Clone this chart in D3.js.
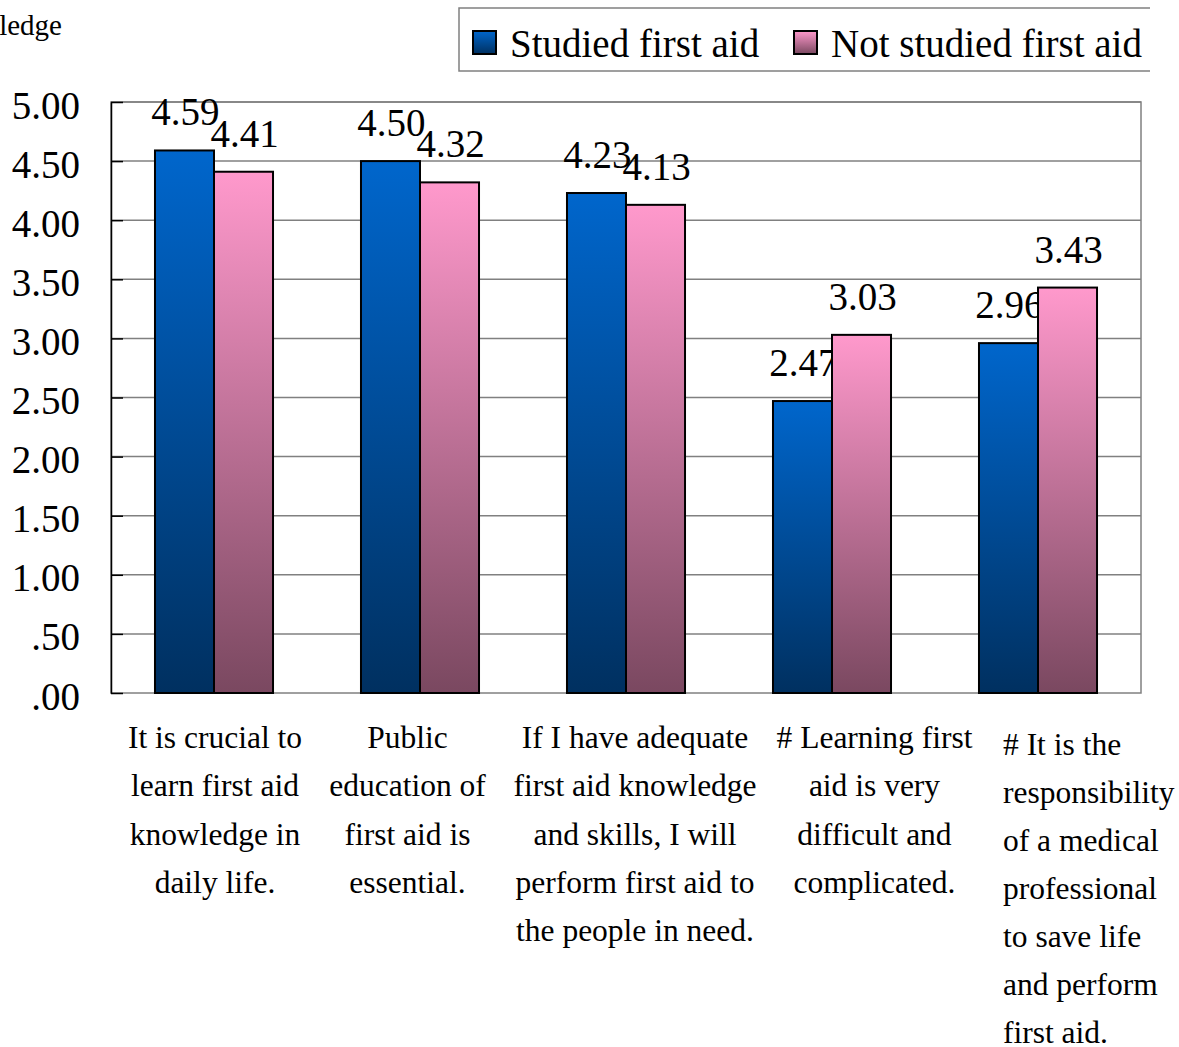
<!DOCTYPE html>
<html><head><meta charset="utf-8">
<script src="https://cdn.jsdelivr.net/npm/d3@7"></script>
<style>body{margin:0;background:#fff}svg{display:block}text{font-family:"Liberation Serif","Times New Roman",serif}</style>
</head><body>
<svg id="c" width="1179" height="1047"></svg>
<script>
const categories = [
  ["It is crucial to","learn first aid","knowledge in","daily life."],
  ["Public","education of","first aid is","essential."],
  ["If I have adequate","first aid knowledge","and skills, I will","perform first aid to","the people in need."],
  ["# Learning first","aid is very","difficult and","complicated."],
  ["# It is the","responsibility","of a medical","professional","to save life","and perform","first aid."]
];
const seriesNames = ["Studied first aid","Not studied first aid"];
const studied = [4.59, 4.50, 4.23, 2.47, 2.96];
const notStudied = [4.41, 4.32, 4.13, 3.03, 3.43];
const yTicks = [0,0.5,1,1.5,2,2.5,3,3.5,4,4.5,5];
const yTickLabels = [".00",".50","1.00","1.50","2.00","2.50","3.00","3.50","4.00","4.50","5.00"];
const titleFragment = "knowledge";

const svg = d3.select("#c");
const L = 111, R = 1141, T = 102, B = 693;
const idx = categories.map((d,i)=>i);
const x = d3.scaleBand().domain(idx).range([L,R]).paddingInner(0.427).paddingOuter(0.2135);
const xs = d3.scaleBand().domain([0,1]).range([0,x.bandwidth()]);
const y = d3.scaleLinear().domain([0,5]).range([B,T]);

const defs = svg.append("defs");
const grads = [["#0066CC","#003060"],["#FF99CC","#7A4860"]];
grads.forEach((g,i)=>{
  const lg = defs.append("linearGradient").attr("id","g"+i).attr("x1",0).attr("y1",0).attr("x2",0).attr("y2",1);
  lg.append("stop").attr("offset","0%").attr("stop-color",g[0]);
  lg.append("stop").attr("offset","100%").attr("stop-color",g[1]);
});

// title fragment (cut off at the left edge, as in the reference)
svg.append("text").attr("x",62).attr("y",35).attr("text-anchor","end").attr("font-size",29).text(titleFragment);

// gridlines
svg.append("g").selectAll("line").data(yTicks.filter(t=>t>0)).join("line")
  .attr("x1",L).attr("x2",R).attr("y1",d=>y(d)).attr("y2",d=>y(d))
  .attr("stroke","#808080").attr("stroke-width",1.5);
// plot border
svg.append("rect").attr("x",L).attr("y",T).attr("width",R-L).attr("height",B-T)
  .attr("fill","none").attr("stroke","#808080").attr("stroke-width",1.5);

// y axis
const yAxis = d3.axisLeft(y).tickValues(yTicks).tickFormat((d,i)=>yTickLabels[i]).tickSize(0).tickPadding(31);
const ya = svg.append("g").attr("transform",`translate(${L},0)`).call(yAxis);
ya.select(".domain").attr("stroke","#000").attr("stroke-width",1.5);
ya.selectAll("text").attr("font-size",39).attr("fill","#000").attr("font-family","Liberation Serif").attr("dy","0.41em");
ya.selectAll(".tick").append("line").attr("x1",0).attr("x2",12).attr("stroke","#000").attr("stroke-width",1.5);

// bars
const data = [studied, notStudied];
data.forEach((vals,s)=>{
  const g = svg.append("g");
  g.selectAll("rect").data(vals).join("rect")
    .attr("x",(d,i)=>x(i)+xs(s)).attr("width",xs.bandwidth())
    .attr("y",d=>y(d)).attr("height",d=>B-y(d))
    .attr("fill",`url(#g${s})`).attr("stroke","#000").attr("stroke-width",2);
  g.selectAll("text").data(vals).join("text")
    .attr("x",(d,i)=>x(i)+xs(s)+xs.bandwidth()/2+1)
    .attr("y",d=>y(d)-25)
    .attr("text-anchor","middle").attr("font-size",39).text(d=>d.toFixed(2));
});

// category labels
const labelShift = [1,-12.5,9,42.5,null];
categories.forEach((lines,i)=>{
  const cx = x(i)+x.bandwidth()/2;
  const t = svg.append("text").attr("font-size",31.5);
  if(labelShift[i]===null){
    t.attr("text-anchor","start");
    lines.forEach((ln,j)=>t.append("tspan").attr("x",1003).attr("y",755+j*48).text(ln));
  } else {
    t.attr("text-anchor","middle");
    lines.forEach((ln,j)=>t.append("tspan").attr("x",cx+labelShift[i]).attr("y",748+j*48.3).text(ln));
  }
});

// legend
const lg = svg.append("g");
lg.append("rect").attr("x",459).attr("y",8).attr("width",691).attr("height",63).attr("fill","#fff");
lg.append("path").attr("d","M1150,8H459V71H1150").attr("fill","none").attr("stroke","#808080").attr("stroke-width",1.5);
const legX = [473,794];
seriesNames.forEach((n,i)=>{
  lg.append("rect").attr("x",legX[i]).attr("y",31).attr("width",23).attr("height",23)
    .attr("fill",`url(#g${i})`).attr("stroke","#000").attr("stroke-width",2);
  lg.append("text").attr("x",legX[i]+37).attr("y",57).attr("font-size",39).text(n);
});
</script>
</body></html>
